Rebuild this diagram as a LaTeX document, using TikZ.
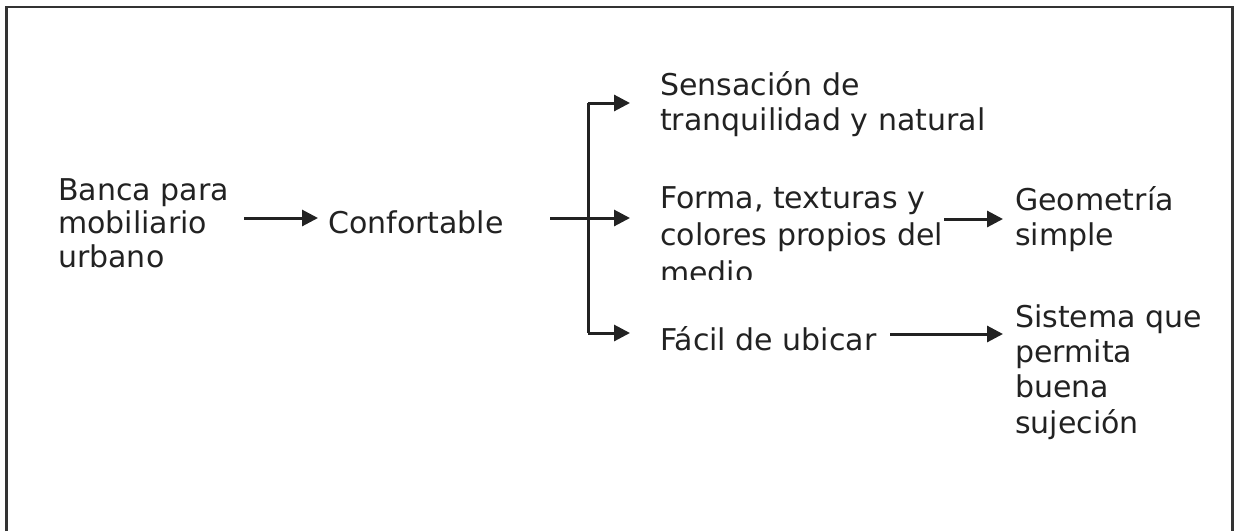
\documentclass[tikz,border=0pt]{standalone}
\usepackage{fontspec}
\setmainfont{DejaVu Sans}
\usetikzlibrary{arrows.meta}
\definecolor{ink}{HTML}{222222}
\tikzset{
  lbl/.style={inner sep=0pt, anchor=base west, align=left, text=ink,
    font=\fontsize{30}{35}\selectfont},
  arr/.style={draw=ink, line width=3pt, -{Triangle[length=16pt,width=16pt]}},
  ln/.style={draw=ink, line width=3pt},
}
\begin{document}
\begin{tikzpicture}[x=1pt,y=-1pt]
\useasboundingbox (0,0) rectangle (1238,531);
\draw[line width=2.5pt, draw=black!80] (6.5,531) -- (6.5,7) -- (1232.5,7) -- (1232.5,531);

\node[lbl, font=\fontsize{30}{33.5}\selectfont] (banca) at (58,267) {Banca para\\mobiliario\\urbano};
\node[lbl] (conf) at (328,233) {Confortable};
\node[lbl] (sens) at (660,130) {Sensación de\\tranquilidad y natural};
\begin{scope}
  \clip (640,150) rectangle (945,279);
  \node[lbl, font=\fontsize{30}{37.5}\selectfont] (forma) at (660,283) {Forma, texturas y\\colores propios del\\medio};
\end{scope}
\node[lbl] (facil) at (660,350) {Fácil de ubicar};
\node[lbl] (geo) at (1015,245) {Geometría\\simple};
\node[lbl, font=\fontsize{30}{35.3}\selectfont] (sist) at (1015,433) {Sistema que\\permita\\buena\\sujeción};

\coordinate (a1) at (244,218);
\coordinate (a2) at (550,218);
\coordinate (br) at (588,218);
\coordinate (a3) at (944,219);
\coordinate (a4) at (890,334);

\draw[arr, shorten >=10pt] (a1) -- (a1 -| conf.west);
\draw[arr, shorten >=30pt] (a2) -- (a2 -| sens.west);
\draw[ln] (br |- 0,103) -- (br |- 0,333);
\draw[arr, shorten >=30pt] (br |- 0,103) -- (sens.west |- 0,103);
\draw[arr, shorten >=30pt] (br |- 0,333) -- (facil.west |- 0,333);
\draw[arr, shorten >=12pt] (a3) -- (a3 -| geo.west);
\draw[arr, shorten >=12pt] (a4) -- (a4 -| sist.west);
\end{tikzpicture}
\end{document}
